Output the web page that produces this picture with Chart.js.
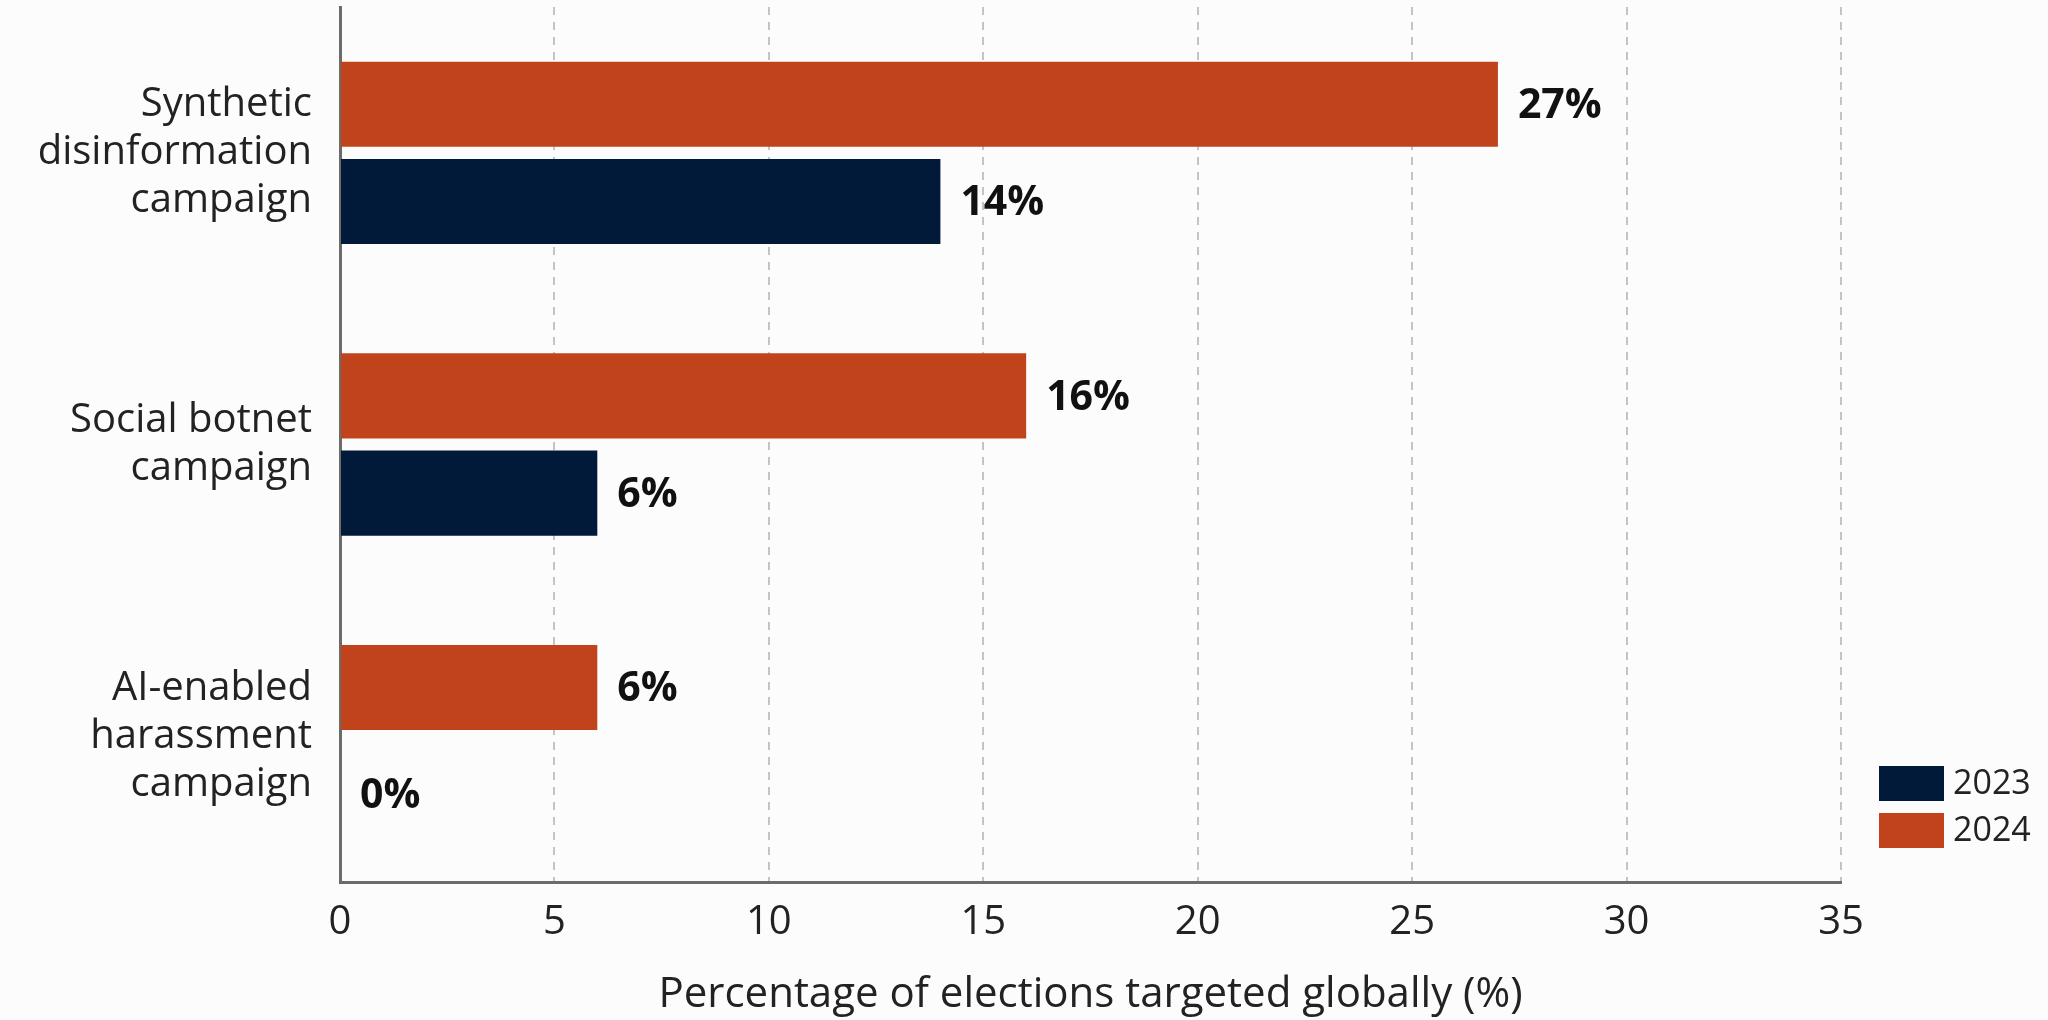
<!DOCTYPE html>
<html>
<head>
<meta charset="utf-8">
<script src="https://cdn.jsdelivr.net/npm/chart.js@4/dist/chart.umd.min.js"></script>
<style>
html,body{margin:0;padding:0;background:#fcfcfc;}
#wrap{width:2048px;height:1020px;position:relative;}
</style>
</head>
<body>
<div id="wrap"><canvas id="c" width="2048" height="1020"></canvas></div>
<script>
const categories = [
  ["Synthetic", "disinformation", "campaign"],
  ["Social botnet", "campaign"],
  ["AI-enabled", "harassment", "campaign"]
];
const seriesNames = ["2023", "2024"];
const values2023 = [14, 6, 0];
const values2024 = [27, 16, 6];
const xTickValues = [0, 5, 10, 15, 20, 25, 30, 35];
const axisTitle = "Percentage of elections targeted globally (%)";
const seriesColors = ["#021a3a", "#c0431c"];

const FONT = "'Open Sans', 'Noto Sans', sans-serif";

const valueLabels = {
  id: 'valueLabels',
  afterDraw(chart) {
    const ctx = chart.ctx;
    ctx.save();
    ctx.font = "bold 41px " + FONT;
    ctx.fillStyle = "#111111";
    ctx.textAlign = "left";
    ctx.textBaseline = "middle";
    chart.data.datasets.forEach((ds, i) => {
      const meta = chart.getDatasetMeta(i);
      meta.data.forEach((bar, j) => {
        const dy = ds.data[j] === 0 ? 12 : 2;
        ctx.fillText(ds.data[j] + "%", bar.x + 20, bar.y + dy);
      });
    });
    ctx.restore();
  }
};

const customLegend = {
  id: 'customLegend',
  afterDraw(chart) {
    const ctx = chart.ctx;
    const area = chart.chartArea;
    ctx.save();
    ctx.font = "34px " + FONT;
    ctx.textAlign = "left";
    ctx.textBaseline = "middle";
    const x0 = area.right + 38;
    const boxW = 65, boxH = 35, gap = 12;
    const yStart = area.bottom - 116;
    seriesNames.forEach((name, k) => {
      const y = yStart + k * (boxH + gap);
      ctx.fillStyle = seriesColors[k];
      ctx.fillRect(x0, y, boxW, boxH);
      ctx.fillStyle = "#222222";
      ctx.fillText(name, x0 + boxW + 9, y + boxH / 2 + 1);
    });
    ctx.restore();
  }
};

new Chart(document.getElementById('c'), {
  type: 'bar',
  data: {
    labels: categories,
    datasets: [
      { label: seriesNames[1], data: values2024, backgroundColor: seriesColors[1] },
      { label: seriesNames[0], data: values2023, backgroundColor: seriesColors[0] }
    ]
  },
  options: {
    indexAxis: 'y',
    responsive: false,
    animation: false,
    devicePixelRatio: 1,
    categoryPercentage: 0.667,
    barPercentage: 0.875,
    layout: { padding: { top: 7, right: 207, left: 0, bottom: 0 } },
    plugins: {
      legend: { display: false },
      tooltip: { enabled: false }
    },
    scales: {
      x: {
        min: 0, max: 35,
        z: 1,
        afterBuildTicks: (scale) => { scale.ticks = xTickValues.map(v => ({ value: v })); },
        afterFit: (scale) => { scale.height = 138; scale.paddingLeft = 0; scale.paddingRight = 0; },
        ticks: {
          font: { family: FONT, size: 40 },
          color: "#222222",
          padding: 17
        },
        grid: {
          drawTicks: false,
          lineWidth: 2,
          color: (c) => (c.tick && c.tick.value === 0) ? 'rgba(0,0,0,0)' : 'rgba(150,150,150,0.55)'
        },
        border: { display: true, color: "#6b6b6b", width: 3, dash: [8, 7] },
        title: {
          display: true,
          text: axisTitle,
          font: { family: FONT, size: 42 },
          color: "#222222",
          padding: { top: 0, bottom: 0 }
        }
      },
      y: {
        afterFit: (scale) => { scale.width = 340; scale.paddingTop = 0; scale.paddingBottom = 0; },
        ticks: {
          font: { family: FONT, size: 40, lineHeight: 1.2 },
          color: "#222222",
          padding: 28
        },
        grid: { display: false, drawTicks: false },
        border: { display: true, color: "#6b6b6b", width: 3 }
      }
    }
  },
  plugins: [valueLabels, customLegend]
});
</script>
</body>
</html>
